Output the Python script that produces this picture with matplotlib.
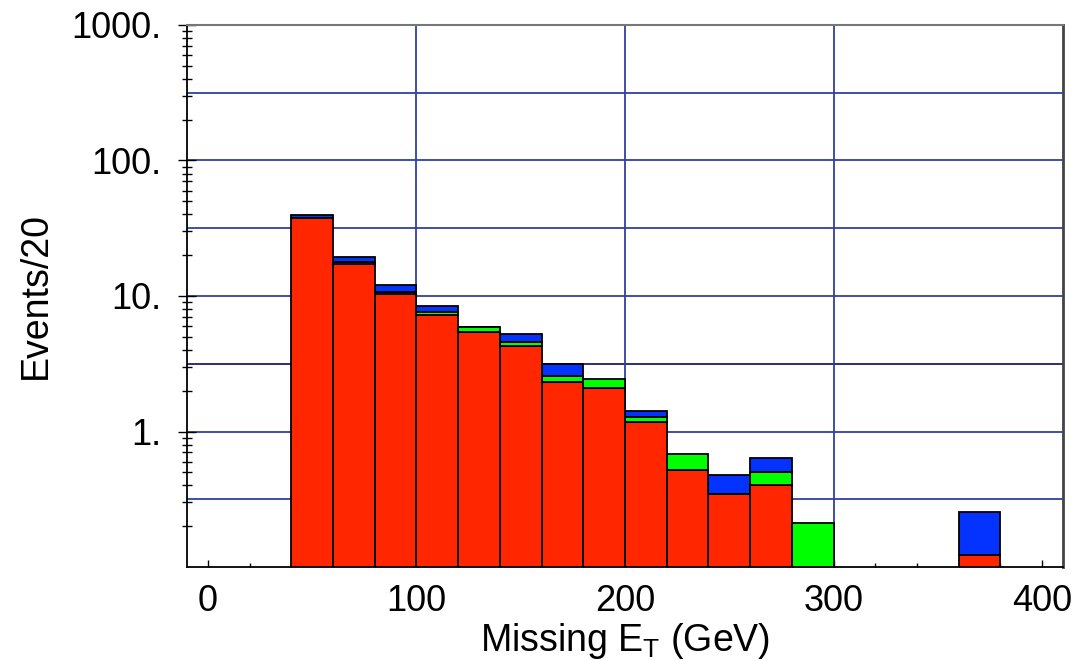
import numpy as np
import matplotlib
matplotlib.use("Agg")
import matplotlib.pyplot as plt
from matplotlib.ticker import FixedLocator, FixedFormatter, NullFormatter

plt.rcParams['font.family'] = ['Liberation Sans', 'DejaVu Sans']
plt.rcParams['mathtext.fontset'] = 'custom'
plt.rcParams['mathtext.rm'] = 'Liberation Sans'

# Histogram contents: lower bin edges (GeV), 20 GeV wide bins, stacked components
bin_lo = [40, 60, 80, 100, 120, 140, 160, 180, 200, 220, 240, 260, 280, 360]
red = [37.5, 17.1, 10.3, 7.3, 5.4, 4.3, 2.3, 2.1, 1.18, 0.52, 0.346, 0.40, 0.0, 0.123]
green = [0.15, 0.8, 0.4, 0.3, 0.5, 0.3, 0.26, 0.33, 0.11, 0.16, 0.0, 0.104, 0.21, 0.0]
blue = [2.2, 1.6, 1.4, 0.8, 0.05, 0.67, 0.57, 0.0, 0.13, 0.0, 0.133, 0.131, 0.0, 0.13]
bin_width = 20

ytick_vals = [1, 10, 100, 1000]
ytick_labels = ["1.", "10.", "100.", "1000."]
xtick_vals = [0, 100, 200, 300, 400]

fig = plt.figure(figsize=(10.89, 6.61), dpi=100)
ax = fig.add_axes([0.1717, 0.1422, 0.9761 - 0.1717, 0.9622 - 0.1422])
ax.set_yscale('log')
ax.set_xlim(-10, 410)
ax.set_ylim(0.1, 1000)

# grid: decades and half-decades, plus every 100 GeV
grid_blue = '#3040a0'
for k in range(-2, 6):
    yv = 10 ** (k / 2)
    if yv <= 0.1 or yv >= 1000:
        continue
    col = '#1c1c68' if abs(yv - 10 ** 0.5) < 1e-6 else grid_blue
    ax.axhline(yv, color=col, lw=1.3, zorder=0)
for xv in [100, 200, 300]:
    ax.axvline(xv, color=grid_blue, lw=1.3, zorder=0)

colors = {'red': '#ff2600', 'green': '#00ff00', 'blue': '#0433ff'}
floor = 1e-3
for i, x0 in enumerate(bin_lo):
    base = floor
    for val, c in ((red[i], colors['red']), (green[i], colors['green']), (blue[i], colors['blue'])):
        if val <= 0:
            continue
        b = base if base > floor else floor
        top = (base if base > floor else 0) + val
        ax.bar(x0, top - b, bottom=b, width=bin_width, align='edge',
               color=c, edgecolor='black', linewidth=1.3, zorder=2)
        base = top

# axes frame
ax.spines['left'].set_color('black')
ax.spines['left'].set_linewidth(1.3)
ax.spines['bottom'].set_color('black')
ax.spines['bottom'].set_linewidth(1.3)
ax.spines['top'].set_color('#777777')
ax.spines['top'].set_linewidth(1.5)
ax.spines['right'].set_color('#444444')
ax.spines['right'].set_linewidth(2.0)
for s in ax.spines.values():
    s.set_zorder(3)

ax.yaxis.set_major_locator(FixedLocator(ytick_vals))
ax.yaxis.set_major_formatter(FixedFormatter(ytick_labels))
minor_y = [m * 10.0 ** e for e in range(-1, 3) for m in range(2, 10)]
ax.yaxis.set_minor_locator(FixedLocator(minor_y))
ax.yaxis.set_minor_formatter(NullFormatter())
ax.tick_params(axis='y', which='major', direction='inout', length=13.5, width=1.0,
               labelsize=26, pad=12, right=False)
ax.tick_params(axis='y', which='minor', direction='inout', length=6.5, width=1.0, right=False)

ax.xaxis.set_major_locator(FixedLocator(xtick_vals))
ax.xaxis.set_minor_locator(FixedLocator(list(range(20, 400, 20))))
ax.tick_params(axis='x', which='major', direction='in', length=5, width=1.0,
               labelsize=26, pad=12, top=False)
ax.tick_params(axis='x', which='minor', direction='in', length=3, width=1.0, top=False)

ax.set_ylabel("Events/20", fontsize=27, labelpad=12)
ax.set_xlabel(r"Missing $\mathregular{E_T}$ (GeV)", fontsize=27, labelpad=2)

fig.savefig("out.png", dpi=100, facecolor='white')
